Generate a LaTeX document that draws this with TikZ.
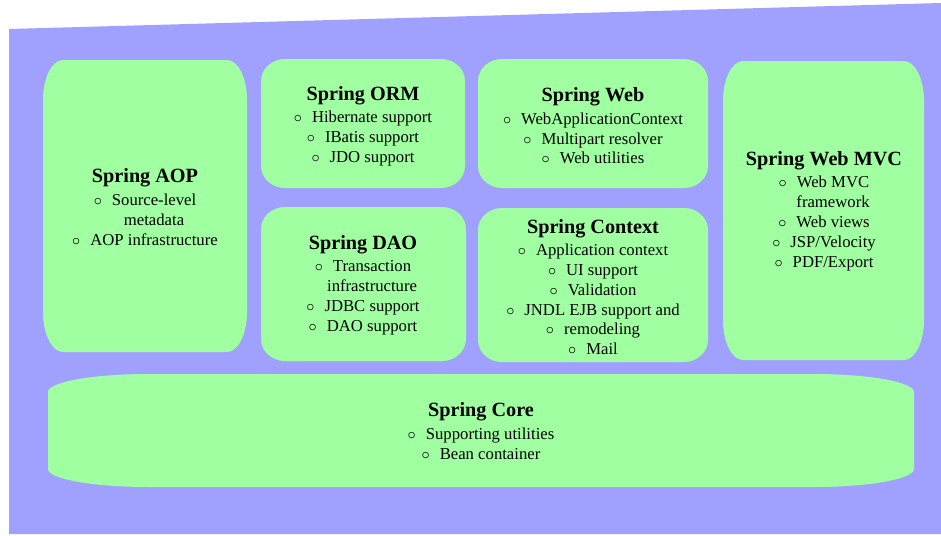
\documentclass[tikz,border=0pt]{standalone}
\usepackage{fontspec}
\setmainfont{Liberation Serif}
\usepackage{xcolor}
\usepackage{tikz}
\usetikzlibrary{positioning}
\definecolor{backblue}{HTML}{A0A0FF}
\definecolor{layergreen}{HTML}{A0FFA0}
\tikzset{layer/.style={fill=layergreen},
 lbl/.style={align=center, inner sep=0pt, font=\fontsize{9.5}{11.3}\selectfont}}
\newcommand{\bul}{$\circ$\hspace{0.6em}}
\newcommand{\nobul}{\hphantom{$\circ$\hspace{0.6em}}}
\newcommand{\ttl}[1]{{\fontsize{11.5}{13}\selectfont\bfseries #1}\\[1.5pt]}
% box with elliptic corners: x1 y1 x2 y2 rx ry
\newcommand{\layerbox}[6]{%
 \fill[layer] (#1+#5,#2) -- (#3-#5,#2)
  .. controls (#3-0.448*#5,#2) and (#3,#2+0.448*#6) .. (#3,#2+#6)
  -- (#3,#4-#6)
  .. controls (#3,#4-0.448*#6) and (#3-0.448*#5,#4) .. (#3-#5,#4)
  -- (#1+#5,#4)
  .. controls (#1+0.448*#5,#4) and (#1,#4-0.448*#6) .. (#1,#4-#6)
  -- (#1,#2+#6)
  .. controls (#1,#2+0.448*#6) and (#1+0.448*#5,#2) .. (#1+#5,#2) -- cycle;}

\begin{document}
\begin{tikzpicture}[x=0.02cm,y=-0.02cm]
 \useasboundingbox (0,0) rectangle (941,535);
 \fill[backblue] (9,29) -- (941,3) -- (941,534) -- (9,534) -- cycle;
 % layers
 \layerbox{43}{60}{247}{352}{20}{40}
 \layerbox{261}{59}{465}{188}{24}{22}
 \layerbox{478}{59}{708}{188}{24}{22}
 \layerbox{723}{61}{924}{360}{20}{40}
 \layerbox{261}{207}{466}{361}{24}{22}
 \layerbox{478}{208}{708}{362}{24}{22}
 \layerbox{48}{374}{914}{487}{100}{18}
 % texts
 \node[lbl] (aop) at (145,207) {\ttl{Spring AOP}
  \bul Source-level\\ \nobul metadata\\ \bul AOP infrastructure};
 \node[lbl] (orm) at (363,126) {\ttl{Spring ORM}
  \bul Hibernate support\\ \bul IBatis support\\ \bul JDO support};
 \node[lbl] (web) at (593,126) {\ttl{Spring Web}
  \bul WebApplicationContext\\ \bul Multipart resolver\\ \bul Web utilities};
 \node[lbl] (mvc) at (824,211) {\ttl{Spring Web MVC}
  \bul Web MVC\\ \nobul framework\\ \bul Web views\\ \bul JSP/Velocity\\ \bul PDF/Export};
 \node[lbl] (dao) at (363,285) {\ttl{Spring DAO}
  \bul Transaction\\ \nobul infrastructure\\ \bul JDBC support\\ \bul DAO support};
 \node[lbl] (ctx) at (593,287) {\ttl{Spring Context}
  \bul Application context\\ \bul UI support\\ \bul Validation\\
  \bul JNDL EJB support and\\ \bul remodeling\\ \bul Mail};
 \node[lbl] (core) at (481,431) {\ttl{Spring Core}
  \bul Supporting utilities\\ \bul Bean container};
\end{tikzpicture}
\end{document}
